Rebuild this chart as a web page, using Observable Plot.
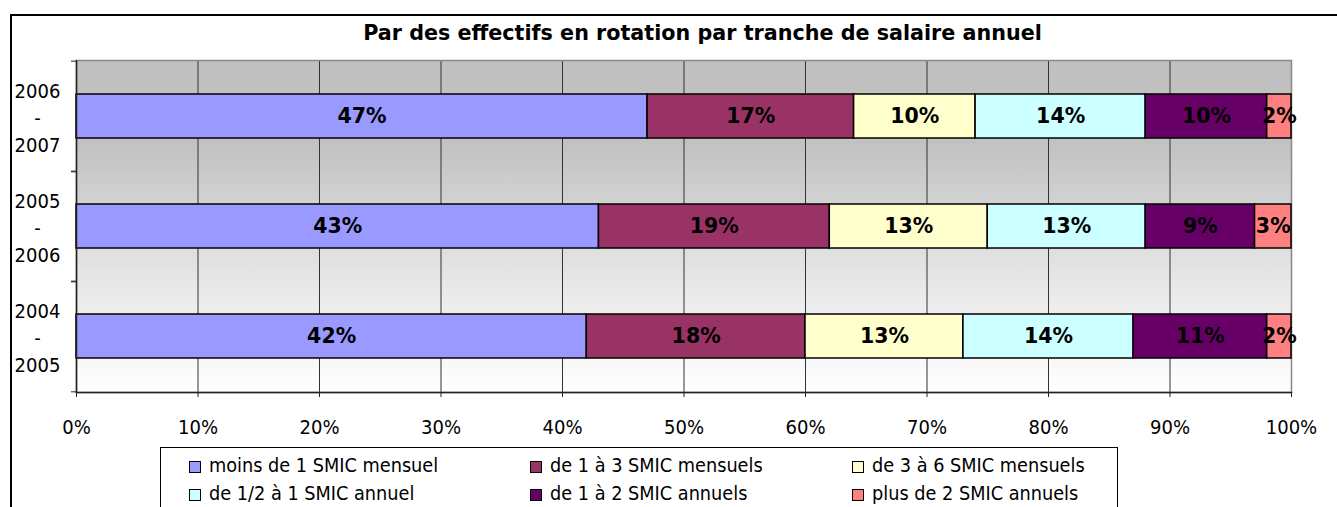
<!DOCTYPE html>
<html>
<head>
<meta charset="utf-8">
<script src="https://cdn.jsdelivr.net/npm/d3@7"></script>
<script src="https://cdn.jsdelivr.net/npm/@observablehq/plot@0.6"></script>
<style>
  html, body { margin: 0; padding: 0; background: #fff; }
  #wrap { position: relative; width: 1337px; height: 507px; overflow: hidden; font-family: "DejaVu Sans Condensed", "DejaVu Sans", sans-serif; }
  #border { position: absolute; left: 10px; top: 14px; width: 1400px; height: 520px; border: 2px solid #000; box-sizing: border-box; }
  #title { position: absolute; left: 0; top: 21px; width: 1405px; text-align: center; font-family: "DejaVu Sans", sans-serif; font-weight: bold; font-size: 20.7px; line-height: 24px; color: #000; white-space: nowrap; }
  #chart { position: absolute; left: 0; top: 0; }
  #legend { position: absolute; left: 160px; top: 447px; width: 958px; height: 80px; border: 1px solid #000; box-sizing: border-box; padding: 4px 0 0 28px;
            display: grid; grid-template-columns: 341px 322px 260px; grid-template-rows: 28px 28px; align-content: start;
            font-size: 19.7px; line-height: 28px; color: #000; }
  .item { display: flex; align-items: center; white-space: nowrap; height: 28px; }
  .sw { width: 10px; height: 10px; border: 1px solid #000; margin-right: 8px; margin-top: 1px; flex: none; }
</style>
</head>
<body>
<div id="wrap">
  <div id="border"></div>
  <div id="title"></div>
  <div id="chart"></div>
  <div id="legend"></div>
</div>
<script>
const titleText = "Par des effectifs en rotation par tranche de salaire annuel";
const periods = ["2006 - 2007", "2005 - 2006", "2004 - 2005"];
const categories = [
  "moins de 1 SMIC mensuel",
  "de 1 à 3 SMIC mensuels",
  "de 3 à 6 SMIC mensuels",
  "de 1/2 à 1 SMIC annuel",
  "de 1 à 2 SMIC annuels",
  "plus de 2 SMIC annuels"
];
const colors = ["#9999ff", "#993366", "#ffffcc", "#ccffff", "#660066", "#ff8080"];
const values2006_2007 = [47, 17, 10, 14, 10, 2];
const values2005_2006 = [43, 19, 13, 13, 9, 3];
const values2004_2005 = [42, 18, 13, 14, 11, 2];
const xTicks = [0, 10, 20, 30, 40, 50, 60, 70, 80, 90, 100];

const seriesByPeriod = [values2006_2007, values2005_2006, values2004_2005];
const data = [];
categories.forEach((cat, ci) => {
  periods.forEach((p, pi) => {
    data.push({period: p, cat, value: seriesByPeriod[pi][ci]});
  });
});

document.getElementById("title").textContent = titleText;

const W = 1337, H = 445;
const mL = 76, mR = 46, mT = 60, mB = 53;
const step = (H - mT - mB) / periods.length;

const plot = Plot.plot({
  width: W,
  height: H,
  marginLeft: mL,
  marginRight: mR,
  marginTop: mT,
  marginBottom: mB,
  style: {fontFamily: '"DejaVu Sans Condensed", "DejaVu Sans", sans-serif', color: "#000", background: "transparent"},
  x: {domain: [0, 100]},
  y: {domain: periods, paddingInner: 0.6, paddingOuter: 0.3},
  color: {domain: categories, range: colors},
  marks: [
    Plot.frame({fill: "url(#bggrad)", stroke: "none"}),
    Plot.gridX(xTicks.slice(1, -1), {stroke: "#333", strokeOpacity: 1, strokeWidth: 1}),
    Plot.frame({stroke: "#888", strokeWidth: 1.5}),
    Plot.barX(data, Plot.stackX({x: "value", y: "period", z: "cat", fill: "cat", stroke: "#000", strokeWidth: 1.5})),
    Plot.text(data, Plot.stackX({x: "value", y: "period", z: "cat", text: d => d.value + "%", fill: "#000",
                                 fontFamily: '"DejaVu Sans", sans-serif', fontWeight: "bold", fontSize: 20.5})),
    Plot.ruleX([0], {stroke: "#222", strokeWidth: 1.5}),
    Plot.frame({anchor: "bottom", stroke: "#222", strokeWidth: 1.5}),
    Plot.axisX(xTicks, {tickFormat: d => d + "%", tickSize: 5, tickPadding: 22, fontSize: 20, label: null, stroke: "#222"}),
    Plot.axisY({tickSize: 0, tickPadding: 39, textAnchor: "middle", fontSize: 20, lineHeight: 1.33, label: null,
                tickFormat: d => d.replace(" - ", "\n-\n")}),
    Plot.axisY({tickSize: 5, tickFormat: () => "", label: null, dy: -step / 2, stroke: "#222"}),
    Plot.axisY({tickSize: 5, tickFormat: () => "", label: null, dy: step / 2, stroke: "#222"})
  ]
});

const ns = "http://www.w3.org/2000/svg";
const defs = document.createElementNS(ns, "defs");
const grad = document.createElementNS(ns, "linearGradient");
grad.setAttribute("id", "bggrad");
grad.setAttribute("x1", "0"); grad.setAttribute("y1", "0");
grad.setAttribute("x2", "0"); grad.setAttribute("y2", "1");
[["0", "#c0c0c0"], ["0.25", "#c2c2c2"], ["0.65", "#e6e6e6"], ["1", "#ffffff"]].forEach(([o, c]) => {
  const s = document.createElementNS(ns, "stop");
  s.setAttribute("offset", o); s.setAttribute("stop-color", c);
  grad.appendChild(s);
});
defs.appendChild(grad);
plot.insertBefore(defs, plot.firstChild);
document.getElementById("chart").appendChild(plot);

const legend = document.getElementById("legend");
categories.forEach((cat, i) => {
  const item = document.createElement("div");
  item.className = "item";
  const sw = document.createElement("span");
  sw.className = "sw";
  sw.style.background = colors[i];
  const t = document.createElement("span");
  t.textContent = cat;
  item.appendChild(sw); item.appendChild(t);
  legend.appendChild(item);
});
</script>
</body>
</html>
